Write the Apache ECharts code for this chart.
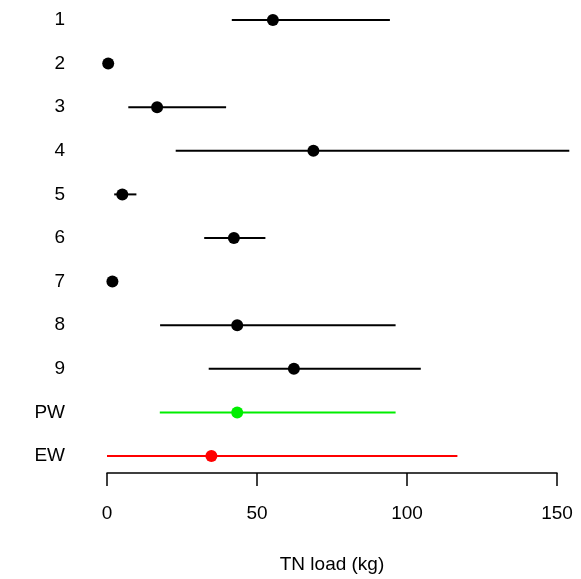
<!DOCTYPE html>
<html>
<head>
<meta charset="utf-8">
<script src="https://cdn.jsdelivr.net/npm/echarts@6/dist/echarts.min.js"></script>
<style>html,body{margin:0;padding:0;background:#fff}#c{width:581px;height:579px}</style>
</head>
<body>
<div id="c"></div>
<script>
var categories = ['1','2','3','4','5','6','7','8','9','PW','EW'];
var estimates  = [55.3, 0.4, 16.7, 68.8, 5.1, 42.3, 1.8, 43.4, 62.3, 43.4, 34.8];
var lowerCI    = [41.6, 0.4, 7.1, 22.9, 2.4, 32.4, 1.8, 17.7, 33.9, 17.6, 0];
var upperCI    = [94.3, 0.4, 39.7, 154.1, 9.8, 52.8, 1.8, 96.2, 104.6, 96.2, 116.8];
var colors     = ['#000000','#000000','#000000','#000000','#000000','#000000','#000000','#000000','#000000','#00ee00','#ff0000'];
var xTicks     = [0, 50, 100, 150];

var font = 'Liberation Sans, Arial, Helvetica, sans-serif';
var chart = echarts.init(document.getElementById('c'), null, {renderer: 'canvas'});

var barData = categories.map(function (c, i) { return [lowerCI[i], upperCI[i], i]; });
var pointData = categories.map(function (c, i) {
  return {value: [estimates[i], i], itemStyle: {color: colors[i], opacity: 1}};
});

chart.setOption({
  animation: false,
  backgroundColor: '#ffffff',
  grid: {left: 107, right: 24, top: 20, bottom: 123},
  xAxis: {
    type: 'value', min: xTicks[0], max: xTicks[xTicks.length - 1], interval: 50,
    offset: 17,
    axisLine: {show: true, lineStyle: {color: '#000', width: 1.5}},
    axisTick: {show: true, length: 13, lineStyle: {color: '#000', width: 1.5}},
    axisLabel: {color: '#000', fontSize: 19, fontFamily: font, margin: 31},
    splitLine: {show: false},
    name: 'TN load (kg)', nameLocation: 'middle', nameGap: 82,
    nameTextStyle: {color: '#000', fontSize: 19, fontFamily: font}
  },
  yAxis: {
    type: 'category', data: categories, inverse: true, boundaryGap: false,
    axisLine: {show: false}, axisTick: {show: false}, splitLine: {show: false},
    axisLabel: {color: '#000', fontSize: 19, fontFamily: font, margin: 42, align: 'right'}
  },
  series: [
    {
      type: 'custom',
      clip: false,
      data: barData,
      renderItem: function (params, api) {
        var i = api.value(2);
        var p1 = api.coord([api.value(0), i]);
        var p2 = api.coord([api.value(1), i]);
        return {
          type: 'line',
          shape: {x1: p1[0], y1: p1[1], x2: p2[0], y2: p2[1]},
          style: {stroke: colors[i], lineWidth: 2}
        };
      },
      encode: {x: [0, 1], y: 2},
      z: 2
    },
    {
      type: 'scatter',
      clip: false,
      symbol: 'circle',
      symbolSize: 12,
      itemStyle: {opacity: 1},
      data: pointData,
      z: 3
    }
  ]
});
</script>
</body>
</html>
